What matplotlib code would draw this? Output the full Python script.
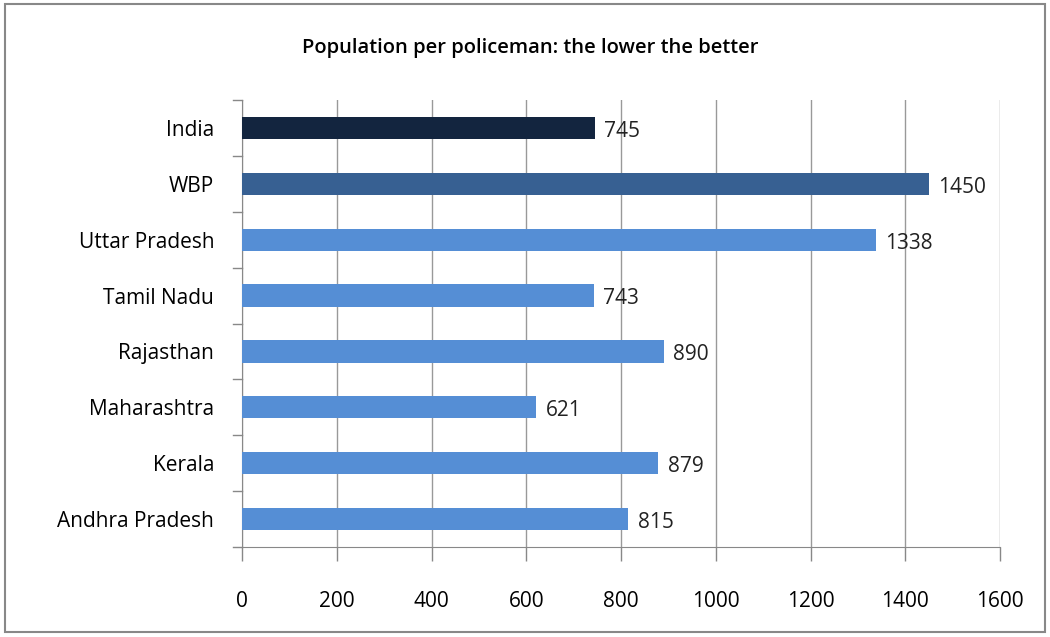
import matplotlib.pyplot as plt
from matplotlib.patches import Rectangle

plt.rcParams['font.family'] = ['Open Sans', 'DejaVu Sans']

states = ['Andhra Pradesh', 'Kerala', 'Maharashtra', 'Rajasthan',
          'Tamil Nadu', 'Uttar Pradesh', 'WBP', 'India']
values = [815, 879, 621, 890, 743, 1338, 1450, 745]
colors = ['#558ED5'] * 6 + ['#376092', '#13253F']

fig = plt.figure(figsize=(10.5, 6.37), dpi=100)
ax = fig.add_axes([0.2305, 0.1413, 0.7219, 0.7017])

ypos = range(len(states))
ax.barh(ypos, values, height=0.4, color=colors, zorder=3)

# value labels
for y, v in zip(ypos, values):
    ax.text(v + 20, y - 0.06, str(v), va='center', ha='left', fontsize=15, color='#222222')

ax.set_xlim(0, 1600)
ax.set_ylim(-0.5, len(states) - 0.5)
ax.set_xticks(range(0, 1601, 200))
ax.tick_params(axis='x', labelsize=15, length=10, color='#888888', pad=22, width=1)

# y labels at bar centres, tick marks between categories
ax.set_yticks(list(ypos))
ax.set_yticklabels(states, fontsize=15)
ax.tick_params(axis='y', length=0, pad=20)
for b in [i - 0.5 for i in range(len(states) + 1)]:
    ax.plot([-0.012, 0], [b, b], transform=ax.get_yaxis_transform(), color='#888888',
            lw=1, clip_on=False)

ax.grid(axis='x', color='#999999', lw=1, zorder=0)
for s in ['top', 'right']:
    ax.spines[s].set_visible(False)
for s in ['left', 'bottom']:
    ax.spines[s].set_color('#888888')

fig.text(0.505, 0.924, 'Population per policeman: the lower the better',
         ha='center', va='center', fontsize=14.5, fontweight='semibold')

fig.patches.append(Rectangle((0.005, 0.008), 0.99, 0.985, transform=fig.transFigure,
                             fill=False, edgecolor='#888888', lw=1.5))

fig.savefig('out.png', dpi=100)
